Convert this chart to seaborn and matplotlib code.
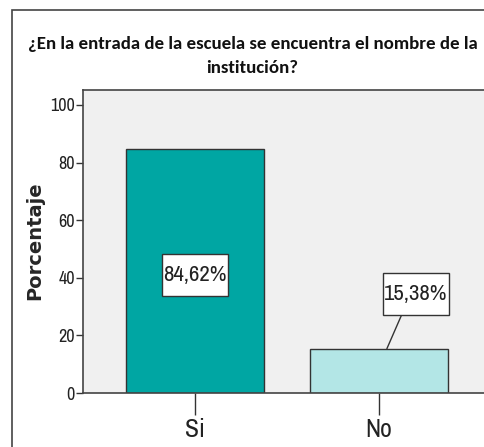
import matplotlib
matplotlib.use('Agg')
import matplotlib.pyplot as plt
import seaborn as sns
from matplotlib import font_manager
from matplotlib.patches import Rectangle
from matplotlib.transforms import ScaledTranslation

# chart data
categories = ['Si', 'No']
percentages = [84.62, 15.38]
bar_labels = ['84,62%', '15,38%']
bar_colors = ['#00A6A3', '#B3E6E6']
yticks = [0, 20, 40, 60, 80, 100]

title = '¿En la entrada de la escuela se encuentra el nombre de la\ninstitución?'


def pick_font(options):
    installed = {f.name for f in font_manager.fontManager.ttflist}
    for name in options:
        if name in installed:
            return name
    return 'DejaVu Sans'


narrow = pick_font(['Liberation Sans Narrow', 'Arimo Narrow', 'Archivo Narrow', 'Roboto Condensed', 'Liberation Sans'])
title_font = pick_font(['Carlito', 'Lato', 'Open Sans'])

sns.set_style('white')
plt.rcParams['font.family'] = [narrow, 'DejaVu Sans']

W, H = 484, 447
fig = plt.figure(figsize=(W / 100, H / 100), dpi=100)

# outer frame (cut off at right and bottom like the original screenshot)
fig.patches.append(Rectangle((12 / W, -0.1), 1.2, (H - 10) / H + 0.1,
                             transform=fig.transFigure, fill=False,
                             edgecolor='#444444', linewidth=1.2))

# plot area in pixels
left, right, top, bottom = 83, 491, 90, 393
ax = fig.add_axes([left / W, (H - bottom) / H, (right - left) / W, (bottom - top) / H])
ax.set_facecolor('#F0F0F0')

sns.barplot(x=categories, y=percentages, hue=categories, palette=bar_colors,
            saturation=1, width=0.75, edgecolor='#333333', linewidth=1.0,
            legend=False, ax=ax)

ax.set_xlim(-0.609, 1.609)
ax.set_ylim(0, 105.2)
ax.set_yticks(yticks)
ax.set_yticklabels([str(t) for t in yticks], fontsize=13)
ax.set_xticks([0, 1])
ax.set_xticklabels(categories, fontsize=18.5)
ax.tick_params(axis='y', direction='out', length=5, width=1, pad=1, left=True, colors='#333333')
ax.tick_params(axis='x', direction='out', length=16, width=1, pad=2, bottom=True, colors='#333333')
for lab in ax.get_xticklabels() + ax.get_yticklabels():
    lab.set_color('#222222')
for s in ['left', 'bottom', 'top']:
    ax.spines[s].set_color('#444444')
    ax.spines[s].set_linewidth(1.2)
ax.spines['right'].set_visible(False)

ax.set_xlabel('')
ax.set_ylabel('Porcentaje', family='DejaVu Sans', fontweight='bold', fontsize=14)
ax.yaxis.label.set_va('center')
ax.yaxis.set_label_coords(-0.118, 0.502)


def label_box(x, y, text, w=66, h=42):
    # white box of fixed pixel size centred on a data point
    trans = fig.dpi_scale_trans + ScaledTranslation(x, y, ax.transData)
    ax.add_patch(Rectangle((-w / 200, -h / 200), w / 100, h / 100, transform=trans,
                           facecolor='white', edgecolor='#333333', linewidth=1, zorder=4))
    ax.text(x, y, text, ha='center', va='center', fontsize=16.5, color='#222222', zorder=5)


label_box(0, 41, bar_labels[0])
label_box(1.2, 34.5, bar_labels[1])
# leader line from the box down to the short bar
ax.annotate('', xy=(1.043, percentages[1]), xytext=(1.125, 27.4),
            arrowprops=dict(arrowstyle='-', color='#333333', linewidth=1, shrinkA=0, shrinkB=0),
            zorder=3)

fig.text(0.522, (H - 56) / H, title, ha='center', va='center', fontsize=13.6,
         fontweight='bold', family=title_font, linespacing=1.55, color='#111111')

fig.savefig('out.png', dpi=100)
